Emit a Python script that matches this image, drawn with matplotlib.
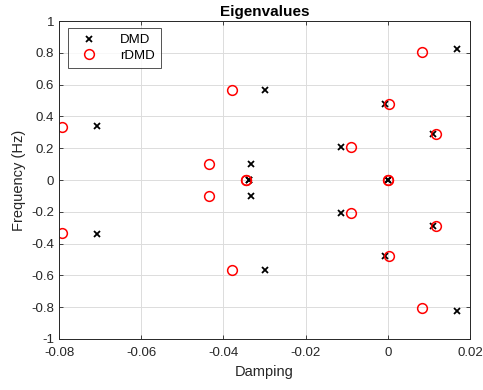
import matplotlib.pyplot as plt
import numpy as np

# DMD / rDMD eigenvalues (damping, frequency in Hz) - upper half, mirrored below
dmd_damping = [0.0168, -0.0298, -0.0707, -0.0008, 0.0110, -0.0113, -0.0334, -0.0338, 0.0]
dmd_freq = [0.826, 0.569, 0.340, 0.476, 0.287, 0.209, 0.100, 0.0, 0.0]
rdmd_damping = [0.0083, -0.0378, -0.0792, 0.0002, 0.0117, -0.0089, -0.0435, -0.0344, 0.0]
rdmd_freq = [0.806, 0.566, 0.335, 0.476, 0.287, 0.209, 0.100, 0.0, 0.0]

dmd_x = np.array(dmd_damping + dmd_damping)
dmd_y = np.array(dmd_freq + [-f for f in dmd_freq])
rdmd_x = np.array(rdmd_damping + rdmd_damping)
rdmd_y = np.array(rdmd_freq + [-f for f in rdmd_freq])

plt.rcParams['font.family'] = ['Liberation Sans', 'DejaVu Sans']

fig = plt.figure(figsize=(4.83, 3.9), dpi=100)
ax = fig.add_axes([0.1222, 0.1308, 0.851, 0.815])

ax.plot(dmd_x, dmd_y, 'x', color='black', markersize=5, markeredgewidth=1.3, label='DMD')
ax.plot(rdmd_x, rdmd_y, 'o', color='red', markerfacecolor='none', markersize=7,
        markeredgewidth=1.1, label='rDMD')

ax.set_xlim(-0.08, 0.02)
ax.set_ylim(-1, 1)
ax.set_xticks(np.arange(-0.08, 0.021, 0.02))
ax.set_xticklabels(['-0.08', '-0.06', '-0.04', '-0.02', '0', '0.02'])
ax.set_yticks(np.arange(-1, 1.01, 0.2))
ax.set_yticklabels(['-1', '-0.8', '-0.6', '-0.4', '-0.2', '0', '0.2', '0.4', '0.6', '0.8', '1'])

ax.grid(True, color='#dcdcdc', linewidth=0.7)
ax.set_axisbelow(True)
ax.tick_params(direction='in', length=3, top=True, right=True, labelsize=9.5,
               colors='#262626', width=0.6)
ax.tick_params(axis='x', pad=6)
for s in ax.spines.values():
    s.set_color('#262626')
    s.set_linewidth(0.7)

ax.set_title('Eigenvalues', fontsize=11, fontweight='bold', pad=4)
ax.set_xlabel('Damping', fontsize=10.5, color='#262626', labelpad=4)
ax.set_ylabel('Frequency (Hz)', fontsize=10.5, color='#262626', labelpad=4)

leg = ax.legend(loc='upper left', bbox_to_anchor=(0.022, 0.978), borderaxespad=0,
                fontsize=9.5, frameon=True, fancybox=False, edgecolor='#262626',
                handletextpad=1.3, borderpad=0.45, labelspacing=0.25, handlelength=2.2)
leg.get_frame().set_linewidth(0.7)

plt.savefig('out.png', dpi=100)
plt.close()
